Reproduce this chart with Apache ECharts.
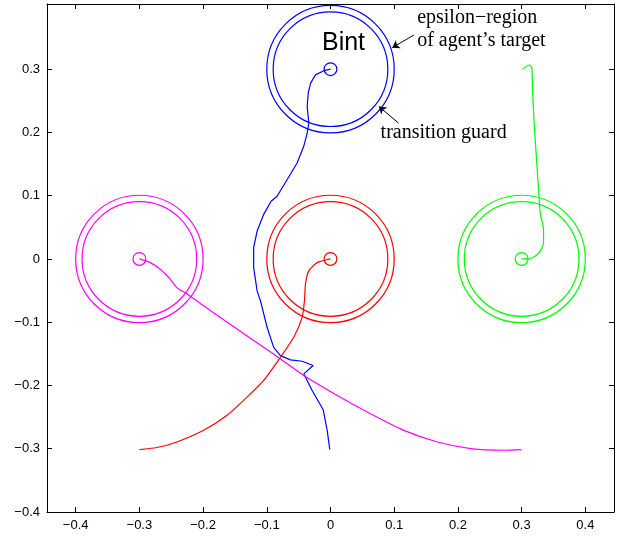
<!DOCTYPE html>
<html>
<head>
<meta charset="utf-8">
<script src="https://cdn.jsdelivr.net/npm/echarts@6/dist/echarts.min.js"></script>
<style>
  html, body { margin: 0; padding: 0; background: #fff; }
  #chart { width: 629px; height: 538px; }
</style>
</head>
<body>
<div id="chart"></div>
<script>
// tick labels
var xTicks = [-0.4, -0.3, -0.2, -0.1, 0, 0.1, 0.2, 0.3, 0.4];
var yTicks = [-0.4, -0.3, -0.2, -0.1, 0, 0.1, 0.2, 0.3];

// agents: target centres and colours
var agentNames = ['blue', 'red', 'magenta', 'green'];
var agentColors = ['#0000ff', '#ff0000', '#ff00ff', '#00ff00'];
var targets = [[0, 0.3], [0, 0], [-0.3, 0], [0.3, 0]];
// radii: epsilon-region, transition guard, target marker
var radii = [0.1, 0.09, 0.01];

// trajectories
var pathBlue = [
  [0, 0.3], [-0.0105, 0.2976], [-0.0236, 0.291], [-0.0314, 0.2776], [-0.035, 0.262],
  [-0.0366, 0.241], [-0.035, 0.225], [-0.034, 0.2146], [-0.0366, 0.199], [-0.042, 0.178],
  [-0.0524, 0.1517], [-0.068, 0.1255], [-0.0838, 0.0992], [-0.0932, 0.0913], [-0.1049, 0.0704],
  [-0.1152, 0.0441], [-0.1206, 0.0178], [-0.1206, -0.0137], [-0.1152, -0.0504], [-0.110, -0.066],
  [-0.0995, -0.108], [-0.0892, -0.1397], [-0.0786, -0.1528], [-0.0629, -0.1595], [-0.0445, -0.1617],
  [-0.0272, -0.1685], [-0.042, -0.1816], [-0.0288, -0.2079], [-0.0115, -0.2383], [-0.0052, -0.2709],
  [-0.0011, -0.3013]
];
var pathRed = [
  [0, 0], [-0.0209, -0.0058], [-0.0341, -0.0189], [-0.0393, -0.0398], [-0.0409, -0.0661],
  [-0.0445, -0.0924], [-0.0577, -0.1239], [-0.0786, -0.1554], [-0.1049, -0.1921], [-0.131, -0.2184],
  [-0.1624, -0.2472], [-0.1992, -0.2709], [-0.241, -0.2893], [-0.2725, -0.2981], [-0.2998, -0.3013]
];
var pathMagenta = [
  [-0.3, 0], [-0.283, -0.0058], [-0.2673, -0.0162], [-0.2516, -0.032], [-0.241, -0.0457],
  [-0.228, -0.0535], [-0.1992, -0.074], [-0.1467, -0.1107], [-0.1049, -0.1397], [-0.0786, -0.158],
  [-0.042, -0.1843], [0.0105, -0.2157], [0.0629, -0.2446], [0.1152, -0.2709], [0.1678, -0.2893],
  [0.2201, -0.2997], [0.2725, -0.3024], [0.2998, -0.3013]
];
var pathGreen = [
  [0.3014, 0.3], [0.3121, 0.3066], [0.316, 0.3024], [0.3171, 0.2672], [0.3197, 0.2146],
  [0.3231, 0.1622], [0.3266, 0.1098], [0.3291, 0.0729], [0.3344, 0.0468], [0.3344, 0.0257],
  [0.3275, 0.0099], [0.3171, 0.002], [0.3066, 0.0005], [0.3, 0]
];
var paths = [pathBlue, pathRed, pathMagenta, pathGreen];

// annotations
var labelBint = { text: 'Bint', pos: [0.0204, 0.341] };
var labelEps = { text: 'epsilon\u2212region\nof agent\u2019s target', pos: [0.136, 0.3625] };
var labelGuard = { text: 'transition guard', pos: [0.0786, 0.1995] };
var arrows = [
  [[0.131, 0.354], [0.097, 0.334]],
  [[0.107, 0.2146], [0.076, 0.241]]
];

var fmt = function (v) {
  return v === 0 ? '0' : String(v).replace('-', '\u2212');
};

var circleData = [];
for (var i = 0; i < targets.length; i++) {
  for (var j = 0; j < radii.length; j++) {
    circleData.push([targets[i][0], targets[i][1], radii[j], i]);
  }
}

var chart = echarts.init(document.getElementById('chart'));

var axisCommon = {
  type: 'value',
  axisLine: { show: true, onZero: false, lineStyle: { color: '#000', width: 1 } },
  splitLine: { show: false },
  axisTick: { show: true, inside: true, length: 5, lineStyle: { color: '#000' } },
  axisLabel: { color: '#000', fontSize: 13, fontFamily: 'Liberation Sans', formatter: fmt }
};

var series = [];
series.push({
  type: 'custom',
  name: 'regions',
  coordinateSystem: 'cartesian2d',
  silent: true,
  clip: false,
  data: circleData,
  renderItem: function (params, api) {
    var c = api.coord([api.value(0), api.value(1)]);
    var r = api.size([api.value(2), 0])[0];
    return {
      type: 'circle',
      shape: { cx: c[0], cy: c[1], r: r },
      style: { fill: 'none', stroke: agentColors[api.value(3)], lineWidth: 1.2 }
    };
  },
  z: 2
});
for (var k = 0; k < paths.length; k++) {
  series.push({
    type: 'line',
    name: agentNames[k],
    data: paths[k],
    showSymbol: false,
    smooth: k === 0 ? false : 0.2,
    lineStyle: { color: agentColors[k], width: 1.2 },
    silent: true,
    animation: false,
    z: 3
  });
}
series.push({
  type: 'lines',
  coordinateSystem: 'cartesian2d',
  data: arrows.map(function (a) { return { coords: a }; }),
  symbol: ['none', 'arrow'],
  symbolSize: 7,
  lineStyle: { color: '#000', width: 1, opacity: 1 },
  silent: true,
  z: 4
});

chart.setOption({
  animation: false,
  grid: { left: 47, right: 15, top: 4, bottom: 26 },
  xAxis: [
    Object.assign({}, axisCommon, {
      position: 'bottom', min: -0.445, max: 0.445,
      axisTick: Object.assign({}, axisCommon.axisTick, { customValues: xTicks }),
      axisLabel: Object.assign({}, axisCommon.axisLabel, { customValues: xTicks, margin: 7 })
    }),
    Object.assign({}, axisCommon, {
      position: 'top', min: -0.445, max: 0.445,
      axisTick: Object.assign({}, axisCommon.axisTick, { customValues: xTicks }),
      axisLabel: { show: false }
    })
  ],
  yAxis: [
    Object.assign({}, axisCommon, {
      position: 'left', min: -0.4, max: 0.403,
      axisTick: Object.assign({}, axisCommon.axisTick, { customValues: yTicks }),
      axisLabel: Object.assign({}, axisCommon.axisLabel, { customValues: yTicks, margin: 7 })
    }),
    Object.assign({}, axisCommon, {
      position: 'right', min: -0.4, max: 0.403,
      axisTick: Object.assign({}, axisCommon.axisTick, { customValues: yTicks }),
      axisLabel: { show: false }
    })
  ],
  series: series
});

var px = function (p) { return chart.convertToPixel({ gridIndex: 0 }, p); };
var pB = px(labelBint.pos), pE = px(labelEps.pos), pG = px(labelGuard.pos);
chart.setOption({
  graphic: [
    { type: 'text', x: pB[0], y: pB[1], style: { text: labelBint.text, fill: '#000',
      font: '25px "Liberation Sans"', align: 'center', verticalAlign: 'middle' } },
    { type: 'text', x: pE[0], y: pE[1], style: { text: labelEps.text, fill: '#000',
      font: '20px "Liberation Serif"', lineHeight: 23, align: 'left', verticalAlign: 'middle' } },
    { type: 'text', x: pG[0], y: pG[1], style: { text: labelGuard.text, fill: '#000',
      font: '20px "Liberation Serif"', align: 'left', verticalAlign: 'middle' } }
  ]
});
</script>
</body>
</html>
